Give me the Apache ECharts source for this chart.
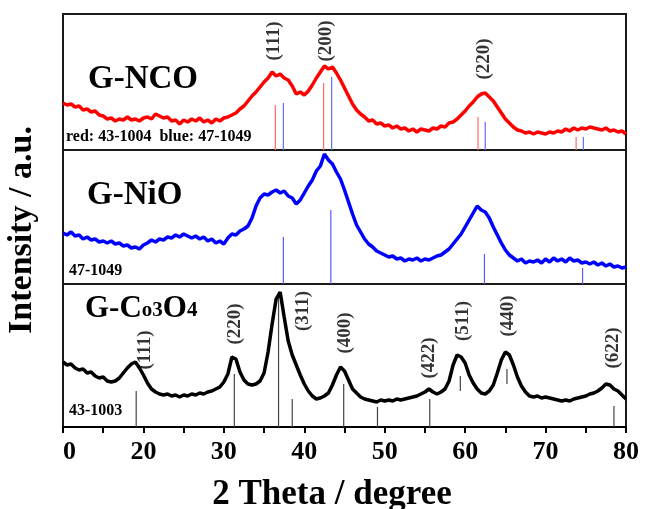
<!DOCTYPE html>
<html>
<head>
<meta charset="utf-8">
<script src="https://cdn.jsdelivr.net/npm/echarts@6/dist/echarts.min.js"></script>
<style>
  html, body { margin: 0; padding: 0; background: #fff; }
  #chart { width: 646px; height: 509px; }
</style>
</head>
<body>
<div id="chart"></div>
<script>
// 2 theta sampling, every 0.5 degree from 10 to 80
const angles = [];
for (let a = 10; a <= 80; a += 0.5) angles.push(a);

// intensities (a.u.), one value per angle
const ncoIntensity = [
  47, 45, 46, 43, 44, 40, 41, 38, 39, 35,
  34, 31, 32, 29, 31, 30, 33, 30, 31, 29,
  32, 33, 31, 36, 34, 32, 33, 29, 30, 26,
  30, 28, 31, 29, 32, 28, 30, 27, 31, 29,
  32, 33, 35, 37, 41, 44, 49, 54, 58, 63,
  68, 72, 78, 74, 76, 72, 70, 64, 56, 58,
  55, 59, 65, 72, 78, 84, 81, 83, 77, 70,
  62, 54, 46, 40, 36, 33, 29, 30, 26, 27,
  24, 25, 22, 24, 21, 22, 19, 21, 18, 21,
  20, 19, 22, 21, 24, 23, 27, 28, 31, 35,
  39, 44, 48, 53, 56, 57, 53, 49, 43, 37,
  31, 27, 23, 20, 19, 17, 18, 16, 18, 17,
  16, 18, 17, 19, 18, 21, 19, 22, 20, 22,
  21, 23, 22, 21, 20, 22, 19, 20, 18, 19,
  16
];
const nioIntensity = [
  51, 49, 52, 48, 49, 45, 47, 44, 45, 42,
  43, 41, 43, 40, 41, 38, 39, 36, 37, 35,
  39, 41, 44, 42, 45, 44, 47, 46, 49, 47,
  50, 48, 46, 48, 45, 47, 43, 45, 41, 43,
  40, 46, 50, 49, 53, 55, 58, 66, 78, 86,
  90, 89, 92, 94, 91, 93, 88, 86, 80, 84,
  91, 98, 104, 113, 118, 130, 124, 120, 112, 105,
  94, 82, 70, 59, 52, 45, 40, 37, 33, 31,
  29, 27, 28, 25, 26, 23, 25, 24, 26, 23,
  25, 24, 26, 28, 29, 32, 35, 40, 45, 50,
  57, 64, 71, 78, 74, 72, 66, 57, 49, 41,
  34, 29, 26, 23, 25, 21, 23, 22, 24, 21,
  25, 22, 26, 23, 25, 22, 26, 23, 24, 21,
  22, 20, 22, 19, 21, 18, 20, 17, 18, 16,
  17
];
const coIntensity = [
  65, 62, 63, 59, 57, 58, 54, 55, 51, 49,
  50, 46, 45, 46, 49, 54, 59, 63, 65, 59,
  52, 44, 38, 35, 33, 32, 33, 31, 32, 30,
  32, 31, 33, 32, 34, 33, 35, 36, 38, 40,
  45, 53, 70, 68, 55, 47, 43, 42, 43, 46,
  54, 75, 103, 128, 135, 110, 86, 72, 62, 52,
  43, 36, 31, 28, 29, 31, 34, 42, 52, 60,
  56, 47, 38, 34, 30, 28, 27, 26, 25, 27,
  26, 27, 26, 28, 27, 28, 29, 30, 31, 33,
  35, 38, 35, 33, 35, 38, 46, 62, 72, 70,
  64, 52, 44, 38, 34, 33, 36, 42, 54, 67,
  75, 72, 62, 50, 41, 35, 31, 30, 31, 29,
  30, 29, 28, 27, 26, 27, 26, 28, 29, 30,
  31, 33, 34, 36, 39, 43, 42, 38, 36, 32,
  28
];

// standard pattern sticks: position, bottom, top
const ncoRedPos = [36.4, 42.4, 61.6, 73.8];
const ncoRedTop = [45, 67, 33, 13];
const ncoBluePos = [37.4, 43.4, 62.5, 74.7];
const ncoBlueTop = [47, 73, 28, 13];
const nioPos = [37.4, 43.3, 62.4, 74.6];
const nioTop = [47, 74, 30, 16];
const coPos = [19.1, 31.3, 36.8, 38.5, 44.9, 49.1, 55.6, 59.4, 65.2, 78.5];
const coBase = [0, 0, 0, 0, 0, 0, 0, 36, 43, 0];
const coTop = [36, 53, 130, 28, 43, 20, 28, 51, 58, 21];

// (hkl) labels
const ncoHkl = ['(111)', '(200)', '(220)'];
const ncoHklPos = [36.2, 42.7, 62.3];
const ncoHklY = [109, 109, 91];
const coHkl = ['(111)', '(220)', '(311)', '(400)', '(422)', '(511)', '(440)', '(622)'];
const coHklPos = [20.2, 31.4, 39.8, 45.1, 55.5, 59.7, 65.4, 78.4];
const coHklY = [77, 103, 116, 94, 69, 106, 111, 79];

const tickLabels = { 10: '0', 20: '20', 30: '30', 40: '40', 50: '50', 60: '60', 70: '70', 80: '80' };

const serif = "'Liberation Serif', 'Times New Roman', serif";
const panelH = [136, 134, 143];

function zip(xs, ys) { return xs.map((x, i) => [x, ys[i]]); }

function stickSeries(idx, pos, base, top, color) {
  return {
    type: 'custom',
    xAxisIndex: idx, yAxisIndex: idx,
    silent: true,
    z: 1,
    data: pos.map((p, i) => [p, base ? base[i] : 0, top[i]]),
    renderItem: function (params, api) {
      const p0 = api.coord([api.value(0), api.value(1)]);
      const p1 = api.coord([api.value(0), api.value(2)]);
      return {
        type: 'line',
        shape: { x1: p0[0], y1: p0[1], x2: p1[0], y2: p1[1] },
        style: { stroke: color, lineWidth: 1.2 }
      };
    }
  };
}

function curveSeries(idx, values, color) {
  return {
    type: 'line',
    xAxisIndex: idx, yAxisIndex: idx,
    data: zip(angles, values),
    showSymbol: false,
    z: 3,
    lineStyle: { color: color, width: 3.5 }
  };
}

function hklSeries(idx, names, pos, ys) {
  return {
    type: 'scatter',
    xAxisIndex: idx, yAxisIndex: idx,
    symbolSize: 0,
    z: 4,
    silent: true,
    data: names.map((n, i) => ({ name: n, value: [pos[i], ys[i]] })),
    label: {
      show: true, position: 'inside', rotate: 90, formatter: '{b}',
      color: '#000', fontFamily: serif, fontSize: 19, fontWeight: 'bold'
    }
  };
}

const chart = echarts.init(document.getElementById('chart'));
const grids = [
  { left: 63, right: 20, top: 14, height: panelH[0] },
  { left: 63, right: 20, top: 150, height: panelH[1] },
  { left: 63, right: 20, top: 284, height: panelH[2] }
].map(g => Object.assign(g, { show: true, borderColor: '#1a1a1a', borderWidth: 2, backgroundColor: 'transparent' }));

const xAxes = [0, 1, 2].map(i => ({
  type: 'value', gridIndex: i, min: 10, max: 80, interval: 5,
  splitLine: { show: false },
  axisLine: { show: i === 2, lineStyle: { color: '#000', width: 2 } },
  axisTick: { show: i === 2, inside: false, length: 6, lineStyle: { color: '#000', width: 2 } },
  axisLabel: {
    show: i === 2, margin: 12, color: '#000', fontFamily: serif, fontWeight: 'bold', fontSize: 26,
    showMinLabel: true, showMaxLabel: true, alignMinLabel: 'left',
    formatter: v => tickLabels[v] || ''
  }
}));
const yAxes = [0, 1, 2].map(i => ({
  type: 'value', gridIndex: i, min: 0, max: panelH[i], show: false
}));

function txt(x, y, text, size, extra) {
  return {
    type: 'text', x: x, y: y, z: 10,
    style: Object.assign({
      text: text, fill: '#000', font: 'bold ' + size + 'px ' + serif,
      textAlign: 'left', textVerticalAlign: 'middle'
    }, extra || {})
  };
}

chart.setOption({
  animation: false,
  grid: grids,
  xAxis: xAxes,
  yAxis: yAxes,
  series: [
    stickSeries(0, ncoRedPos, null, ncoRedTop, '#ff6a6a'),
    stickSeries(0, ncoBluePos, null, ncoBlueTop, '#6a6aff'),
    curveSeries(0, ncoIntensity, '#ff0000'),
    hklSeries(0, ncoHkl, ncoHklPos, ncoHklY),
    stickSeries(1, nioPos, null, nioTop, '#5a5aff'),
    curveSeries(1, nioIntensity, '#0000ff'),
    stickSeries(2, coPos, coBase, coTop, '#444'),
    curveSeries(2, coIntensity, '#000'),
    hklSeries(2, coHkl, coHklPos, coHklY)
  ],
  graphic: [
    txt(88, 79, 'G-NCO', 33),
    txt(66, 137, 'red: 43-1004  blue: 47-1049', 16),
    txt(87, 195, 'G-NiO', 33),
    txt(69, 271, '47-1049', 16),
    {
      type: 'text', x: 85, y: 309, z: 10,
      style: {
        text: '{b|G-C}{s|o3}{b|O}{s|4}',
        textVerticalAlign: 'middle',
        rich: {
          b: { font: 'bold 31px ' + serif, fill: '#000' },
          s: { font: 'bold 21px ' + serif, fill: '#000', verticalAlign: 'bottom', padding: [0, 0, 3, 0] }
        }
      }
    },
    txt(69, 411, '43-1003', 16),
    txt(332, 495, '2 Theta / degree', 35, { textAlign: 'center' }),
    {
      type: 'text', x: 22, y: 230, rotation: Math.PI / 2, z: 10,
      style: {
        text: 'Intensity / a.u.', fill: '#000', font: 'bold 34px ' + serif,
        textAlign: 'center', textVerticalAlign: 'middle'
      }
    }
  ]
});
</script>
</body>
</html>
